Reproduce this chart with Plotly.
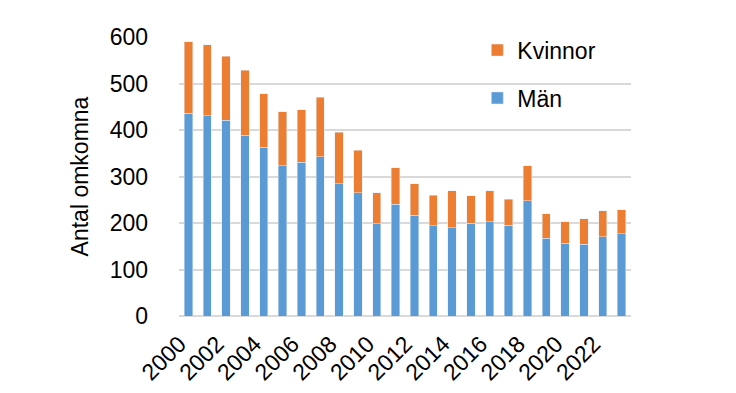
import plotly.graph_objects as go

years = [str(y) for y in range(2000, 2024)]
man = [436, 431, 421, 389, 363, 323, 331, 342, 284, 265, 198, 240, 217, 194, 190, 200, 203, 195, 248, 167, 157, 154, 170, 177]
total = [590, 583, 559, 528, 478, 439, 444, 470, 395, 357, 265, 319, 284, 260, 269, 259, 269, 251, 323, 220, 203, 209, 226, 228]
kvinnor = [t - m for t, m in zip(total, man)]
tick_labels = [str(y) for y in range(2000, 2024, 2)]

FONT = "Liberation Sans, Arial, sans-serif"

fig = go.Figure()
fig.add_trace(go.Bar(x=years, y=man, name="Män", marker_color="#5B9BD5",
                     legendgroup="m", legendrank=2))
fig.add_trace(go.Bar(x=years, y=kvinnor, name="Kvinnor", marker_color="#ED7D31",
                     legendgroup="k", legendrank=1))

fig.update_layout(
    width=736, height=393,
    barmode="stack", bargap=0.55,
    paper_bgcolor="white", plot_bgcolor="white",
    margin=dict(l=171, r=113, t=29, b=85),
    font=dict(family=FONT, size=23, color="#000000"),
    legend=dict(x=0.66, y=1.03, xanchor="left", yanchor="top",
                traceorder="grouped", tracegroupgap=15,
                bgcolor="rgba(255,255,255,0)", font=dict(size=23)),
    xaxis=dict(type="category", tickmode="array", tickvals=tick_labels,
               ticktext=tick_labels, tickangle=-45, showgrid=False,
               showline=False, ticks="", tickfont=dict(size=23),
               ticklabelstandoff=9, ticklabelshift=-9),
    yaxis=dict(range=[0, 600], dtick=100, showgrid=True, gridcolor="#d9d9d9",
               gridwidth=1.5, zeroline=True, zerolinecolor="#d9d9d9",
               zerolinewidth=1.5, showline=False, ticks="",
               tickfont=dict(size=23), ticklabelstandoff=30,
               title=dict(text="Antal omkomna", font=dict(size=23), standoff=14)),
)

fig.write_html("out.html")
